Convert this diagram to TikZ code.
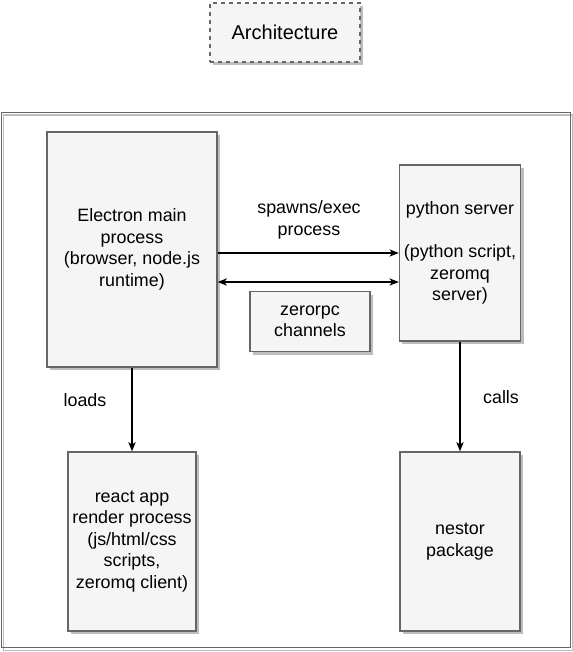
\documentclass[tikz,border=0pt]{standalone}
\usepackage{fontspec}
\setmainfont{Liberation Sans}
\usetikzlibrary{arrows.meta,shadows}
\definecolor{boxfill}{HTML}{F5F5F5}
\definecolor{boxline}{HTML}{666666}
\definecolor{shadowgray}{HTML}{BDBDBD}
\tikzset{
  procbox/.style={draw=boxline, fill=boxfill, line width=1pt, align=center,
    font=\fontsize{13.4}{16.1}\selectfont,
    drop shadow={shadow xshift=2.25pt, shadow yshift=-2.25pt, fill=shadowgray, opacity=1}},
  link/.style={-{Stealth[length=7pt,width=5.5pt,inset=2pt]}, line width=0.9pt},
  lbl/.style={align=center, font=\fontsize{13.4}{16.1}\selectfont}
}
\begin{document}
\begin{tikzpicture}[x=0.75pt,y=-0.75pt]
\useasboundingbox (0,0) rectangle (573,652);

% title
\node[procbox, dashed, minimum width=112.5pt, minimum height=44.25pt, font=\fontsize{15}{18}\selectfont] (title) at (285,32.5) {Architecture};

% outer frame and its shadow
\draw[shadowgray, line width=1pt] (3.8,115) rectangle (572.7,650.7);
\draw[boxline, line width=1pt] (1.3,112.3) rectangle (570.7,647.8);

% process boxes
\node[procbox, minimum width=127.5pt, minimum height=176.25pt] (electron) at (132,249.5) {Electron main\\process\\(browser, node.js\\runtime)};
\node[procbox, minimum width=90pt, minimum height=132pt] (python) at (460,253) {python server\\\mbox{}\\(python script,\\zeromq\\server)};
\node[procbox, minimum width=90pt, minimum height=45pt] (zerorpc) at (310,321.5) {zerorpc\\channels};
\node[procbox, minimum width=96pt, minimum height=134.25pt] (react) at (132,541.5) {react app\\render process\\(js/html/css\\scripts,\\zeromq client)};
\node[procbox, minimum width=90pt, minimum height=134.25pt] (nestor) at (460,541.5) {nestor\\package};

% connectors
\coordinate (spawnR) at (python.west);
\coordinate (spawnL) at (spawnR -| electron.east);
\coordinate (chanR) at ([yshift=-21.75pt]python.west);
\coordinate (chanL) at (chanR -| electron.east);
\draw[link] (spawnL) -- (spawnR);
\draw[link, {Stealth[length=7pt,width=5.5pt,inset=2pt]}-{Stealth[length=7pt,width=5.5pt,inset=2pt]}] (chanL) -- (chanR);
\draw[link] (electron.south) -- (react.north);
\draw[link] (python.south) -- (nestor.north);

% labels
\node[lbl] (spawnlbl) at (309,220) {spawns/exec\\process};
\node[lbl] (loadslbl) at (85,400) {loads};
\node[lbl] (callslbl) at (501,397) {calls};

\end{tikzpicture}
\end{document}
